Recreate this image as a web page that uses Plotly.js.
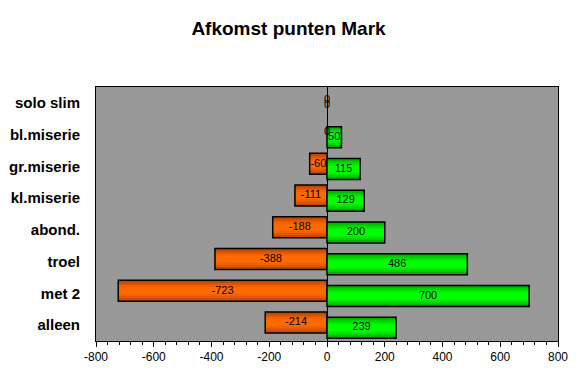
<!DOCTYPE html>
<html>
<head>
<meta charset="utf-8">
<script src="https://cdn.plot.ly/plotly-3.0.1.min.js"></script>
<style>html,body{margin:0;padding:0;background:#fff;}#chart{width:577px;height:376px;}</style>
</head>
<body>
<div id="chart"></div>
<script>
// Data (bottom to top)
var categories = ['alleen', 'met 2', 'troel', 'abond.', 'kl.miserie', 'gr.miserie', 'bl.miserie', 'solo slim'];
var negVals = [-214, -723, -388, -188, -111, -60, 0, 0];
var posVals = [239, 700, 486, 200, 129, 115, 50, 0];
var xTicks = [-800, -600, -400, -200, 0, 200, 400, 600, 800];

var FONT = 'Liberation Sans, Arial, sans-serif';
var idx = categories.map(function (c, i) { return i; });
var off = 0.08;
var yNeg = idx.map(function (i) { return i + off; });
var yPos = idx.map(function (i) { return i - off; });

var orangeShades = ['#C24A00', '#DC5600', '#F06200', '#FF6A00'];
var greenShades = ['#00B400', '#00D200', '#00EC00', '#00FF00'];
var widths = [0.66, 0.5, 0.36, 0.22];

var traces = [];
function addSeries(vals, ys, shades) {
  widths.forEach(function (w, k) {
    traces.push({
      type: 'bar', orientation: 'h', x: vals, y: ys, width: w,
      marker: { color: shades[k], line: { width: 0 } },
      hoverinfo: 'skip', showlegend: false
    });
  });
  traces.push({
    type: 'bar', orientation: 'h', x: vals, y: ys, width: widths[0],
    marker: {
      color: 'rgba(0,0,0,0)',
      line: { color: '#000', width: vals.map(function (v) { return v === 0 ? 0 : 1.5; }) }
    },
    hoverinfo: 'skip', showlegend: false
  });
  traces.push({
    type: 'scatter', mode: 'text',
    x: vals.map(function (v) { return v / 2; }), y: ys,
    text: vals.map(function (v) { return String(v); }),
    textposition: 'middle center',
    textfont: { family: FONT, size: 11, color: '#000' },
    hoverinfo: 'skip', showlegend: false
  });
}
addSeries(negVals, yNeg, orangeShades);
addSeries(posVals, yPos, greenShades);

var layout = {
  width: 577, height: 376,
  paper_bgcolor: '#ffffff', plot_bgcolor: '#999999',
  margin: { l: 96, r: 19, t: 87, b: 35, pad: 0 },
  barmode: 'overlay',
  showlegend: false,
  hovermode: false,
  title: {
    text: 'Afkomst punten Mark',
    font: { family: FONT, size: 19, color: '#000', weight: 'bold' },
    x: 0.5, xref: 'container', xanchor: 'center',
    y: 1 - 28 / 376, yref: 'container', yanchor: 'middle'
  },
  xaxis: {
    range: [-800, 800], tickvals: xTicks, ticktext: xTicks.map(String),
    ticks: 'outside', ticklen: 5, tickwidth: 1, tickcolor: '#000',
    minor: { dtick: 40, tick0: 0, ticks: 'outside', ticklen: 3, tickwidth: 1, tickcolor: '#000', showgrid: false },
    showline: true, mirror: true, linecolor: '#000', linewidth: 1,
    showgrid: false, zeroline: true, zerolinecolor: '#000', zerolinewidth: 1,
    tickfont: { family: FONT, size: 12, color: '#000' },
    fixedrange: true
  },
  yaxis: {
    range: [-0.5, 7.5], tickvals: idx, ticktext: categories,
    ticks: '', ticklabelstandoff: 12,
    showline: true, mirror: true, linecolor: '#000', linewidth: 1,
    showgrid: false, zeroline: false,
    tickfont: { family: FONT, size: 15, color: '#000', weight: 'bold' },
    fixedrange: true
  }
};

Plotly.newPlot('chart', traces, layout, { displayModeBar: false, staticPlot: true });
</script>
</body>
</html>
